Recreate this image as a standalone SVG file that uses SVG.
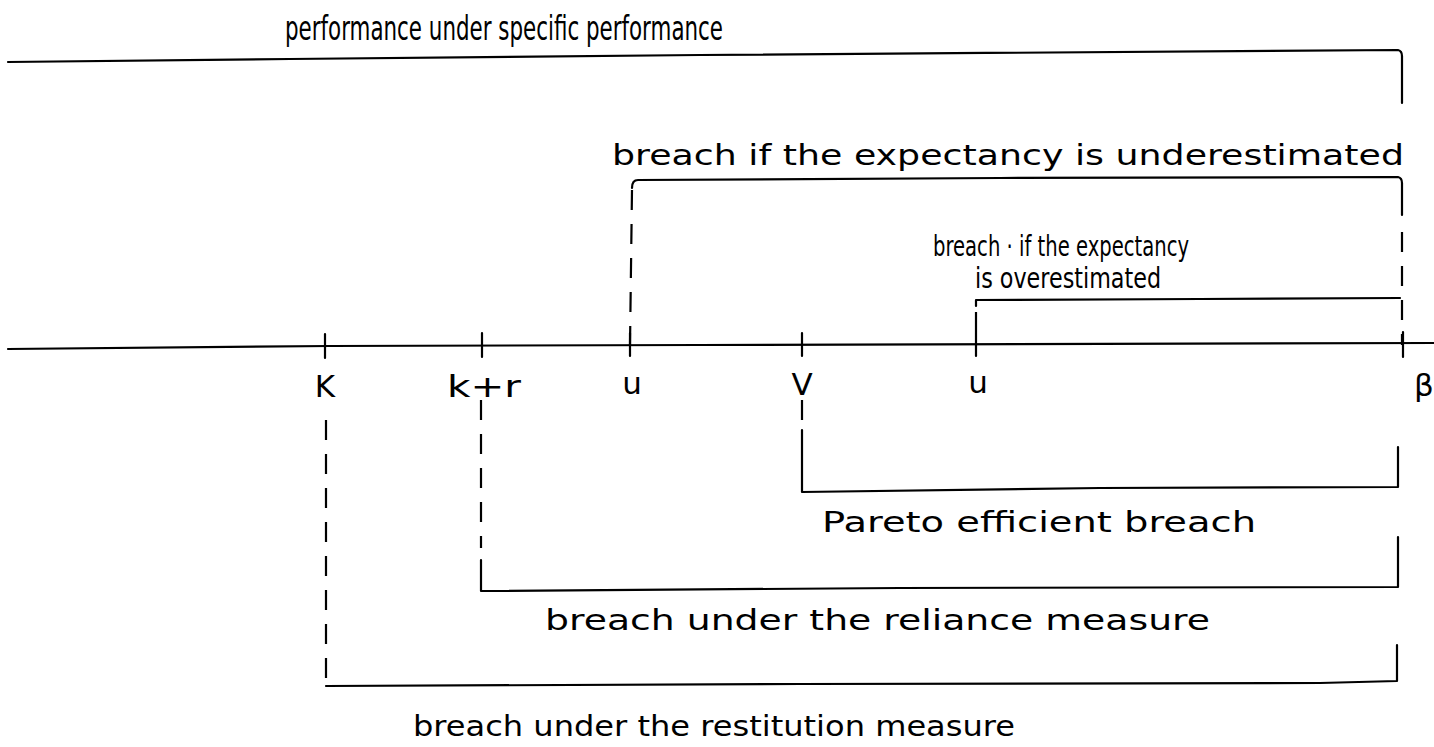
<svg xmlns="http://www.w3.org/2000/svg" width="1434" height="747" viewBox="0 0 1434 747">
  <style>
    .ln { stroke: #000; stroke-width: 2.2; fill: none; stroke-linecap: round; stroke-linejoin: round; }
    .dash { stroke: #000; stroke-width: 2.2; fill: none; stroke-dasharray: 20 14; }
    .tx { font-family: "DejaVu Sans", "Liberation Sans", sans-serif; font-size: 29px; fill: #000; }
    .lab { font-family: "DejaVu Sans", "Liberation Sans", sans-serif; font-size: 31px; fill: #000; text-anchor: middle; }
  </style>
  <rect width="1434" height="747" fill="#fff"/>

  <!-- performance under specific performance -->
  <g id="specific-performance">
    <path class="ln" d="M8 62 L290 59 L700 55 L1398 50 Q1402 51 1402 56 L1402 103"/>
    <text class="tx" x="285" y="40" style="font-size:33px" textLength="438" lengthAdjust="spacingAndGlyphs">performance under specific performance</text>
  </g>

  <!-- main axis with ticks -->
  <g id="axis">
    <path class="ln" d="M8 349 L330 346 L700 345 L1434 343"/>
    <path class="ln" d="M325 334 V358 M482 333 V357 M630 333 V356 M802 333 V356 M976 332 V356 M1403 332 V357"/>
  </g>

  <!-- axis labels -->
  <g id="labels">
    <text class="lab" x="325" y="397">K</text>
    <text class="lab" x="484" y="397" textLength="74" lengthAdjust="spacingAndGlyphs">k+r</text>
    <text class="lab" x="632" y="394">u</text>
    <text class="lab" x="802" y="395">V</text>
    <text class="lab" x="978" y="393">u</text>
    <text class="lab" x="1424" y="396">β</text>
  </g>

  <!-- breach if the expectancy is underestimated -->
  <g id="underestimated">
    <text class="tx" x="612" y="165" textLength="792" lengthAdjust="spacingAndGlyphs">breach if the expectancy is underestimated</text>
    <path class="ln" d="M632 188 Q632 180 638 180 L1000 178 L1398 177 Q1402 178 1402 183 L1402 215"/>
    <line class="dash" x1="632" y1="190" x2="630" y2="345"/>
    <line class="dash" x1="1402" y1="232" x2="1402" y2="345"/>
  </g>

  <!-- breach if the expectancy is overestimated -->
  <g id="overestimated">
    <text class="tx" x="933" y="256" textLength="256" lengthAdjust="spacingAndGlyphs">breach · if the expectancy</text>
    <text class="tx" x="975" y="288" textLength="186" lengthAdjust="spacingAndGlyphs">is overestimated</text>
    <path class="ln" d="M976 306 L976 300 L1200 299 L1400 298"/>
    <line class="dash" x1="976" y1="312" x2="976" y2="332"/>
  </g>

  <!-- Pareto efficient breach -->
  <g id="pareto">
    <line class="dash" x1="802" y1="400" x2="802" y2="420"/>
    <path class="ln" d="M802 430 L802 492 L1100 488 L1398 487 L1398 447"/>
    <text class="tx" x="822" y="532" textLength="434" lengthAdjust="spacingAndGlyphs">Pareto efficient breach</text>
  </g>

  <!-- breach under the reliance measure -->
  <g id="reliance">
    <line class="dash" x1="481" y1="400" x2="481" y2="548"/>
    <path class="ln" d="M481 560 L481 591 L900 588 L1398 587 L1398 537"/>
    <text class="tx" x="545" y="630" textLength="665" lengthAdjust="spacingAndGlyphs">breach under the reliance measure</text>
  </g>

  <!-- breach under the restitution measure -->
  <g id="restitution">
    <line class="dash" x1="326" y1="420" x2="326" y2="686"/>
    <path class="ln" d="M326 686 L800 684 L1320 683 L1397 681 L1397 645"/>
    <text class="tx" x="413" y="736" textLength="602" lengthAdjust="spacingAndGlyphs">breach under the restitution measure</text>
  </g>
</svg>
